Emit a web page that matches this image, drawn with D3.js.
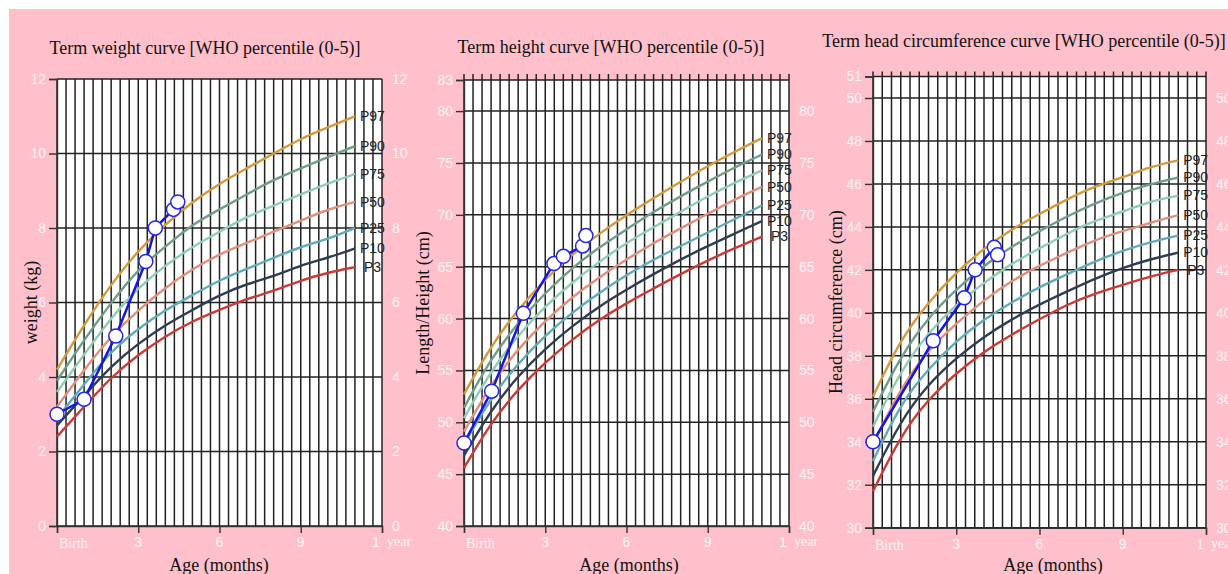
<!DOCTYPE html>
<html>
<head>
<meta charset="utf-8">
<script src="https://cdn.jsdelivr.net/npm/d3@7"></script>
<style>
  html, body { margin: 0; padding: 0; background: #ffffff; }
  svg { display: block; }
</style>
</head>
<body>
<svg id="chart" width="1228" height="574"></svg>
<script>
// ---------------- DATA ----------------
const ageMonths = [0, 1, 2, 3, 4, 5, 6, 7, 8, 9, 10, 11];
const percentileLabels = ["P97", "P90", "P75", "P50", "P25", "P10", "P3"];

// Weight-for-age (kg)
const weightP97 = [4.2, 5.4, 6.5, 7.4, 8.1, 8.7, 9.2, 9.6, 10.0, 10.4, 10.7, 11.0];
const weightP90 = [3.9, 5.0, 6.0, 6.9, 7.5, 8.1, 8.5, 8.9, 9.3, 9.6, 9.9, 10.2];
const weightP75 = [3.6, 4.6, 5.6, 6.4, 7.0, 7.5, 7.9, 8.3, 8.6, 8.9, 9.2, 9.45];
const weightP50 = [3.2, 4.2, 5.1, 5.8, 6.4, 6.9, 7.3, 7.6, 7.9, 8.2, 8.5, 8.7];
const weightP25 = [2.9, 3.8, 4.7, 5.3, 5.8, 6.2, 6.6, 6.9, 7.2, 7.5, 7.7, 8.0];
const weightP10 = [2.7, 3.5, 4.3, 4.9, 5.4, 5.8, 6.2, 6.5, 6.7, 7.0, 7.2, 7.45];
const weightP3  = [2.4, 3.2, 4.0, 4.6, 5.1, 5.5, 5.8, 6.1, 6.3, 6.6, 6.8, 6.95];

// Length/height-for-age (cm)
const heightP97 = [52.7, 57.4, 60.9, 63.8, 66.2, 68.2, 70.0, 71.6, 73.2, 74.7, 76.1, 77.4];
const heightP90 = [51.4, 56.2, 59.6, 62.5, 64.9, 66.9, 68.6, 70.3, 71.8, 73.2, 74.6, 75.8];
const heightP75 = [50.4, 55.0, 58.4, 61.2, 63.5, 65.5, 67.3, 68.8, 70.3, 71.8, 73.1, 74.3];
const heightP50 = [49.1, 53.7, 57.1, 59.8, 62.1, 64.0, 65.7, 67.3, 68.7, 70.1, 71.5, 72.7];
const heightP25 = [47.9, 52.4, 55.7, 58.4, 60.6, 62.5, 64.2, 65.7, 67.0, 68.3, 69.6, 70.9];
const heightP10 = [46.8, 51.2, 54.5, 57.1, 59.3, 61.2, 62.8, 64.3, 65.7, 67.0, 68.2, 69.4];
const heightP3  = [45.6, 50.0, 53.2, 55.8, 58.0, 59.9, 61.5, 62.9, 64.3, 65.6, 66.8, 67.9];

// Head circumference-for-age (cm)
const headP97 = [36.1, 38.8, 40.5, 41.9, 43.0, 43.9, 44.6, 45.3, 45.9, 46.3, 46.8, 47.1];
const headP90 = [35.4, 38.0, 39.8, 41.1, 42.2, 43.1, 43.8, 44.5, 45.1, 45.6, 46.0, 46.3];
const headP75 = [34.7, 37.3, 39.1, 40.4, 41.4, 42.3, 43.0, 43.7, 44.3, 44.7, 45.2, 45.45];
const headP50 = [33.9, 36.5, 38.3, 39.5, 40.6, 41.5, 42.2, 42.8, 43.4, 43.8, 44.2, 44.55];
const headP25 = [33.1, 35.8, 37.4, 38.7, 39.7, 40.5, 41.2, 41.8, 42.4, 42.9, 43.3, 43.6];
const headP10 = [32.4, 35.0, 36.7, 37.9, 38.9, 39.7, 40.4, 41.0, 41.6, 42.1, 42.5, 42.8];
const headP3  = [31.7, 34.3, 36.0, 37.2, 38.2, 39.0, 39.7, 40.4, 40.9, 41.3, 41.7, 42.0];

// Child measurements
const weightAges   = [0, 1.0, 2.17, 3.28, 3.63, 4.3, 4.46];
const weightValues = [3.0, 3.4, 5.1, 7.1, 8.0, 8.5, 8.7];
const heightAges   = [0, 1.02, 2.19, 3.32, 3.67, 4.38, 4.5];
const heightValues = [48.0, 53.0, 60.5, 65.3, 66.0, 67.0, 68.0];
const headAges     = [0, 2.17, 3.29, 3.68, 4.37, 4.49];
const headValues   = [34.0, 38.7, 40.7, 42.0, 43.05, 42.7];

// Axis ticks
const xTickValues = [0, 3, 6, 9, 12];
const xTickLabels = ["Birth", "3", "6", "9", "1 year"];
const weightLeftTicks  = [0, 2, 4, 6, 8, 10, 12];
const weightRightTicks = [0, 2, 4, 6, 8, 10, 12];
const heightLeftTicks  = [40, 45, 50, 55, 60, 65, 70, 75, 80, 83];
const heightRightTicks = [40, 45, 50, 55, 60, 65, 70, 75, 80];
const headLeftTicks    = [30, 32, 34, 36, 38, 40, 42, 44, 46, 48, 50, 51];
const headRightTicks   = [30, 32, 34, 36, 38, 40, 42, 44, 46, 48, 50];

// Titles
const titles = [
  "Term weight curve [WHO percentile (0-5)]",
  "Term height curve [WHO percentile (0-5)]",
  "Term head circumference curve [WHO percentile (0-5)]"
];
const yTitles = ["weight (kg)", "Length/Height (cm)", "Head circumference (cm)"];
const xTitle = "Age (months)";

// ---------------- STYLE ----------------
const percentileColors = ["#D49A3A", "#6E9E86", "#8FCDB5", "#E0907A", "#62AAB8", "#2E3D52", "#CC3A35"];
const SERIF = "'Liberation Serif','Times New Roman',Times,serif";
const SANS = "'Liberation Sans',Arial,Helvetica,sans-serif";
const tickColor = "#FFF3F5";
const gridColor = "#222";

const svg = d3.select("#chart");
svg.append("rect").attr("x", 0).attr("y", 0).attr("width", 1228).attr("height", 574).attr("fill", "#ffffff");
svg.append("rect").attr("x", 9).attr("y", 9).attr("width", 1219).attr("height", 565).attr("fill", "#FFC0CB");

const panels = [
  { x0: 57, x1: 382, y0: 79, y1: 526, domain: [0, 12], left: weightLeftTicks, right: weightRightTicks,
    topExt: 0, series: [weightP97, weightP90, weightP75, weightP50, weightP25, weightP10, weightP3],
    ages: weightAges, values: weightValues, title: titles[0], titleX: 205, titleY: 54,
    yTitle: yTitles[0], yTitleX: 33, xTitleX: 219 },
  { x0: 464, x1: 789, y0: 80, y1: 526, domain: [40, 83], left: heightLeftTicks, right: heightRightTicks,
    topExt: 6, series: [heightP97, heightP90, heightP75, heightP50, heightP25, heightP10, heightP3],
    ages: heightAges, values: heightValues, title: titles[1], titleX: 611, titleY: 53,
    yTitle: yTitles[1], yTitleX: 425, xTitleX: 629 },
  { x0: 873, x1: 1206, y0: 76.5, y1: 527.7, domain: [30, 51], left: headLeftTicks, right: headRightTicks,
    topExt: 5, series: [headP97, headP90, headP75, headP50, headP25, headP10, headP3],
    ages: headAges, values: headValues, title: titles[2], titleX: 1024, titleY: 47,
    yTitle: yTitles[2], yTitleX: 838, xTitleX: 1053 }
];

panels.forEach(p => {
  const x = d3.scaleLinear().domain([0, 12]).range([p.x0, p.x1]);
  const y = d3.scaleLinear().domain(p.domain).range([p.y1, p.y0]);
  const g = svg.append("g");

  // plot background
  g.append("rect").attr("x", p.x0).attr("y", p.y0).attr("width", p.x1 - p.x0).attr("height", p.y1 - p.y0)
    .attr("fill", "#ffffff");

  // vertical grid: every 1/3 month
  const vLines = d3.range(0, 37).map(i => i / 3);
  g.selectAll(".vg").data(vLines).enter().append("line")
    .attr("x1", d => x(d)).attr("x2", d => x(d))
    .attr("y1", p.y0 - p.topExt).attr("y2", p.y1)
    .attr("stroke", gridColor).attr("stroke-width", 1.5);

  // horizontal grid
  g.selectAll(".hg").data(p.left).enter().append("line")
    .attr("x1", p.x0).attr("x2", p.x1)
    .attr("y1", d => y(d)).attr("y2", d => y(d))
    .attr("stroke", gridColor).attr("stroke-width", 1.5);

  // left axis
  const leftAxis = d3.axisLeft(y).tickValues(p.left).tickSize(8).tickPadding(3).tickFormat(d3.format("d"));
  const la = g.append("g").attr("transform", `translate(${p.x0},0)`).call(leftAxis);
  la.select(".domain").attr("stroke", "#333").attr("stroke-width", 1.4);
  la.selectAll(".tick line").attr("stroke", "#333").attr("stroke-width", 1.4);
  la.selectAll(".tick text").attr("fill", tickColor).attr("font-family", SANS).attr("font-size", 14);

  // right axis labels (no ticks)
  const rightAxis = d3.axisRight(y).tickValues(p.right).tickSize(0).tickPadding(10).tickFormat(d3.format("d"));
  const ra = g.append("g").attr("transform", `translate(${p.x1},0)`).call(rightAxis);
  ra.select(".domain").remove();
  ra.selectAll(".tick text").attr("fill", tickColor).attr("font-family", SANS).attr("font-size", 14);

  // bottom axis
  const bottomAxis = d3.axisBottom(x).tickValues(xTickValues).tickSize(7).tickFormat("");
  const ba = g.append("g").attr("transform", `translate(0,${p.y1})`).call(bottomAxis);
  ba.select(".domain").attr("stroke", "#333").attr("stroke-width", 1.4);
  ba.selectAll(".tick line").attr("stroke", "#333").attr("stroke-width", 1.4);

  xTickValues.forEach((v, i) => {
    const lbl = xTickLabels[i];
    if (lbl === "Birth") {
      g.append("text").attr("x", x(v) + 2).attr("y", p.y1 + 22).attr("font-family", SERIF)
        .attr("font-size", 14).attr("fill", tickColor).text(lbl);
    } else if (lbl === "1 year") {
      const parts = lbl.split(" ");
      g.append("text").attr("x", x(v) - 6).attr("y", p.y1 + 21).attr("text-anchor", "middle")
        .attr("font-family", SANS).attr("font-size", 14).attr("fill", tickColor).text(parts[0]);
      g.append("text").attr("x", x(v) + 5).attr("y", p.y1 + 20).attr("font-family", SERIF)
        .attr("font-size", 14).attr("fill", tickColor).text(parts[1]);
    } else {
      g.append("text").attr("x", x(v)).attr("y", p.y1 + 21).attr("text-anchor", "middle")
        .attr("font-family", SANS).attr("font-size", 14).attr("fill", tickColor).text(lbl);
    }
  });

  // percentile curves
  const line = d3.line().x((d, i) => x(ageMonths[i])).y(d => y(d)).curve(d3.curveBasis);
  p.series.forEach((s, k) => {
    g.append("path").attr("d", line(s)).attr("fill", "none")
      .attr("stroke", percentileColors[k]).attr("stroke-width", 2.4);
    const lastX = x(ageMonths[s.length - 1]);
    const lastY = y(s[s.length - 1]);
    g.append("text").attr("x", lastX + (percentileLabels[k] === "P3" ? 9 : 5)).attr("y", lastY + 1)
      .attr("dominant-baseline", "middle").attr("font-family", SANS).attr("font-size", 14)
      .attr("fill", "#222").text(percentileLabels[k]);
  });

  // child measurements
  const mline = d3.line().x((d, i) => x(p.ages[i])).y(d => y(d));
  g.append("path").attr("d", mline(p.values)).attr("fill", "none")
    .attr("stroke", "#1414EE").attr("stroke-width", 2.5);
  g.selectAll(".pt").data(p.values).enter().append("circle")
    .attr("cx", (d, i) => x(p.ages[i])).attr("cy", d => y(d)).attr("r", 7)
    .attr("fill", "#ffffff").attr("stroke", "#2626E6").attr("stroke-width", 1.5);

  // titles
  svg.append("text").attr("x", p.titleX).attr("y", p.titleY).attr("text-anchor", "middle")
    .attr("font-family", SERIF).attr("font-size", 18).attr("fill", "#111").text(p.title);
  const cy = (p.y0 + p.y1) / 2;
  svg.append("text").attr("transform", `translate(${p.yTitleX},${cy}) rotate(-90)`)
    .attr("text-anchor", "middle").attr("dominant-baseline", "middle")
    .attr("font-family", SERIF).attr("font-size", 18).attr("fill", "#111").text(p.yTitle);
  svg.append("text").attr("x", p.xTitleX).attr("y", 571).attr("text-anchor", "middle")
    .attr("font-family", SERIF).attr("font-size", 18).attr("fill", "#111").text(xTitle);
});
</script>
</body>
</html>
